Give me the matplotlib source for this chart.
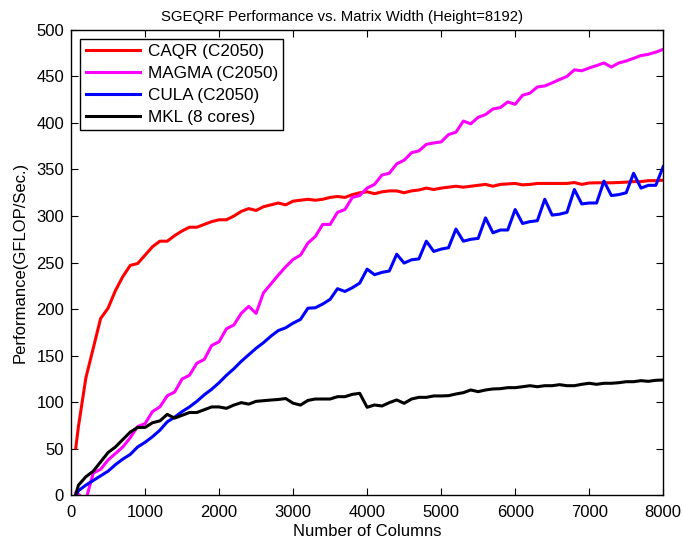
import matplotlib
matplotlib.use("Agg")
import matplotlib.pyplot as plt

plt.rcParams['font.family'] = ['Liberation Sans', 'DejaVu Sans']

# matrix widths (columns)
columns = [64] + list(range(100, 8001, 100))

caqr = [51, 74, 126, 158, 190, 201, 220, 235, 247, 249,
        258, 267, 273, 273, 279, 284, 288, 288, 291, 294,
        296, 296, 300, 305, 308, 306, 310, 312, 314, 312,
        316, 317, 318, 317, 318, 320, 321, 320, 323, 325,
        326, 324, 326, 327, 327, 325, 327, 328, 330, 328.5,
        330, 331, 332, 331, 332, 333, 334, 332, 334, 334.5,
        335, 333.5, 334, 335, 335, 335, 335, 335, 336, 334,
        335.5, 335.7, 335.7, 335.7, 336, 336.4, 337, 337, 338, 338,
        338.5]

magma = [3, 1, -5, 24, 28, 38, 45, 52, 62, 74,
         77, 90, 95, 107, 111, 125, 129, 142, 146, 161,
         165, 179, 183, 195.5, 203, 195.5, 217.6, 227, 236.6, 245.5,
         253.4, 258, 271, 278, 291, 291, 304, 307, 320, 322,
         330, 334, 344, 346, 356, 360, 368, 370, 377, 378.5,
         379.6, 387.5, 390, 402, 399, 406, 409, 415, 416.5, 422.5,
         420, 429.7, 432, 438.6, 439.7, 443, 446.6, 450, 457, 456,
         459, 461.6, 464.4, 460, 464.4, 466.5, 469.4, 472.3, 473.7, 476,
         479]

cula = [0, 5, 11, 16, 21, 26, 33, 39, 44, 52,
        57, 63, 70, 79, 84, 90, 95, 101, 108, 114,
        121, 129, 136, 144, 151, 158, 164, 171, 177, 180,
        185, 189, 201, 201.5, 205.5, 210.5, 222, 219, 223, 228,
        243, 237, 239.5, 241, 259, 249.5, 253, 254, 273, 262,
        264.5, 266, 286, 273, 275, 276, 298, 282, 285, 285,
        307, 292, 294, 295, 318, 301, 302, 304, 328.5, 313,
        314, 314, 337.5, 322, 323, 325, 346, 330, 333, 333,
        353]

mkl = [1, 11, 20, 26, 36, 46, 52, 60, 68, 73,
       73, 78, 80, 87, 83, 86, 89, 89, 92, 95,
       95, 93.5, 97, 99.6, 98, 101, 101.7, 102.4, 103, 104,
       99, 97, 102, 103.5, 103.5, 103.5, 106, 106, 108.5, 109.6,
       94.6, 97.1, 96, 99.6, 102.5, 98.9, 103.5, 105.3, 105.3, 106.8,
       106.8, 107.1, 108.9, 110.3, 113.2, 111.4, 113.2, 114.3, 114.6, 115.7,
       115.7, 116.7, 117.8, 116.7, 117.8, 117.8, 118.9, 117.8, 117.8, 119.3,
       120.4, 119.3, 120.4, 120.4, 121, 122.1, 122.1, 123.2, 122.5, 123.6,
       123.9]

fig = plt.figure(figsize=(6.83, 5.42), dpi=100, facecolor="white")
ax = fig.add_axes([0.104, 0.086, 0.867, 0.859])

ax.plot(columns, caqr, color="#ff0000", linewidth=2.2, label="CAQR (C2050)")
ax.plot(columns, magma, color="#ff00ff", linewidth=2.2, label="MAGMA (C2050)")
ax.plot(columns, cula, color="#0000ff", linewidth=2.2, label="CULA (C2050)")
ax.plot(columns, mkl, color="black", linewidth=2.2, label="MKL (8 cores)")

ax.set_xlim(0, 8000)
ax.set_ylim(0, 500)
ax.set_xticks(range(0, 8001, 1000))
ax.set_yticks(range(0, 501, 50))
ax.tick_params(direction="in", top=True, right=True, labelsize=12,
               length=5, width=0.8)
ax.tick_params(axis="x", pad=7)
ax.tick_params(axis="y", pad=5)
for s in ax.spines.values():
    s.set_linewidth(1.0)

ax.set_title("SGEQRF Performance vs. Matrix Width (Height=8192)", fontsize=10.7,
             pad=6, x=0.457)
ax.set_xlabel("Number of Columns", fontsize=12, labelpad=3)
ax.set_ylabel("Performance(GFLOP/Sec.)", fontsize=12, labelpad=6)

leg = ax.legend(loc="upper left", fontsize=12.3, handlelength=3.2,
                handletextpad=0.45, labelspacing=0.4, borderaxespad=0.55,
                fancybox=False, framealpha=1, edgecolor="black",
                borderpad=0.3)
leg.get_frame().set_linewidth(1.0)

plt.savefig("out.png", dpi=100, facecolor="white")
plt.close()
